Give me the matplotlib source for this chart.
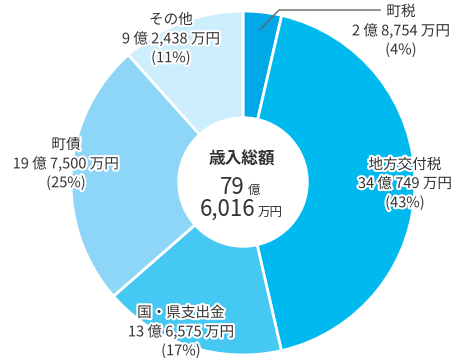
import numpy as np
import matplotlib.pyplot as plt
import matplotlib.patheffects as pe

plt.rcParams['font.family'] = ['Noto Sans CJK JP', 'DejaVu Sans']

# revenue breakdown (万円)
names = ['町税', '地方交付税', '国・県支出金', '町債', 'その他']
values = [28754, 340749, 136575, 197500, 92438]
amount_text = ['2 億 8,754 万円', '34 億 749 万円', '13 億 6,575 万円',
               '19 億 7,500 万円', '9 億 2,438 万円']
pct_text = ['(4%)', '(43%)', '(17%)', '(25%)', '(11%)']
colors = ['#00a8e8', '#00b9ef', '#45c8f2', '#8ed6f7', '#cdeefc']

W, H = 476, 361
fig = plt.figure(figsize=(W / 100, H / 100), dpi=100)
ax = fig.add_axes([0, 0, 1, 1])

cx, cy, R = 243, 183, 172
# y axis is flipped (pixel coords), so counterclock here draws clockwise
wedges, _ = ax.pie(values, colors=colors, startangle=-90, counterclock=True,
                   center=(cx, cy), radius=R,
                   wedgeprops=dict(edgecolor='white', linewidth=2))
ax.set_xlim(0, W)
ax.set_ylim(H, 0)
ax.axis('off')
ax.add_patch(plt.Circle((cx, cy - 1), 65, color='white', zorder=5))

outline = [pe.withStroke(linewidth=3, foreground='white')]
tc = '#333333'

# label positions (centre of each text block)
label_pos = [(401, 12), (405, 165), (181, 313), (66, 145), (171, 20)]
for i in range(len(names)):
    x, y = label_pos[i]
    for j, s in enumerate([names[i], amount_text[i], pct_text[i]]):
        ax.text(x, y + j * 19, s, ha='center', va='center', fontsize=10.5,
                color=tc, path_effects=outline, zorder=10)

# leader line for 町税
ang = np.deg2rad(90 - values[0] / sum(values) * 360 / 2)
px, py = cx + 0.9 * R * np.cos(ang), cy - 0.9 * R * np.sin(ang)
ax.plot([px, 279, 380], [py, 10, 10], color='#666666', lw=1, zorder=6)

# centre total
ax.text(cx - 1, 160, '歳入総額', ha='center', va='center', fontsize=12,
        fontweight='bold', color=tc, zorder=10)
ax.text(cx + 2, 187, '79', ha='right', va='center', fontsize=16, color=tc, zorder=10)
ax.text(cx + 5, 190, '億', ha='left', va='center', fontsize=9, color=tc, zorder=10)
ax.text(cx + 12, 209, '6,016', ha='right', va='center', fontsize=16, color=tc, zorder=10)
ax.text(cx + 15, 213, '万円', ha='left', va='center', fontsize=9, color=tc, zorder=10)

fig.savefig('out.png', dpi=100)
